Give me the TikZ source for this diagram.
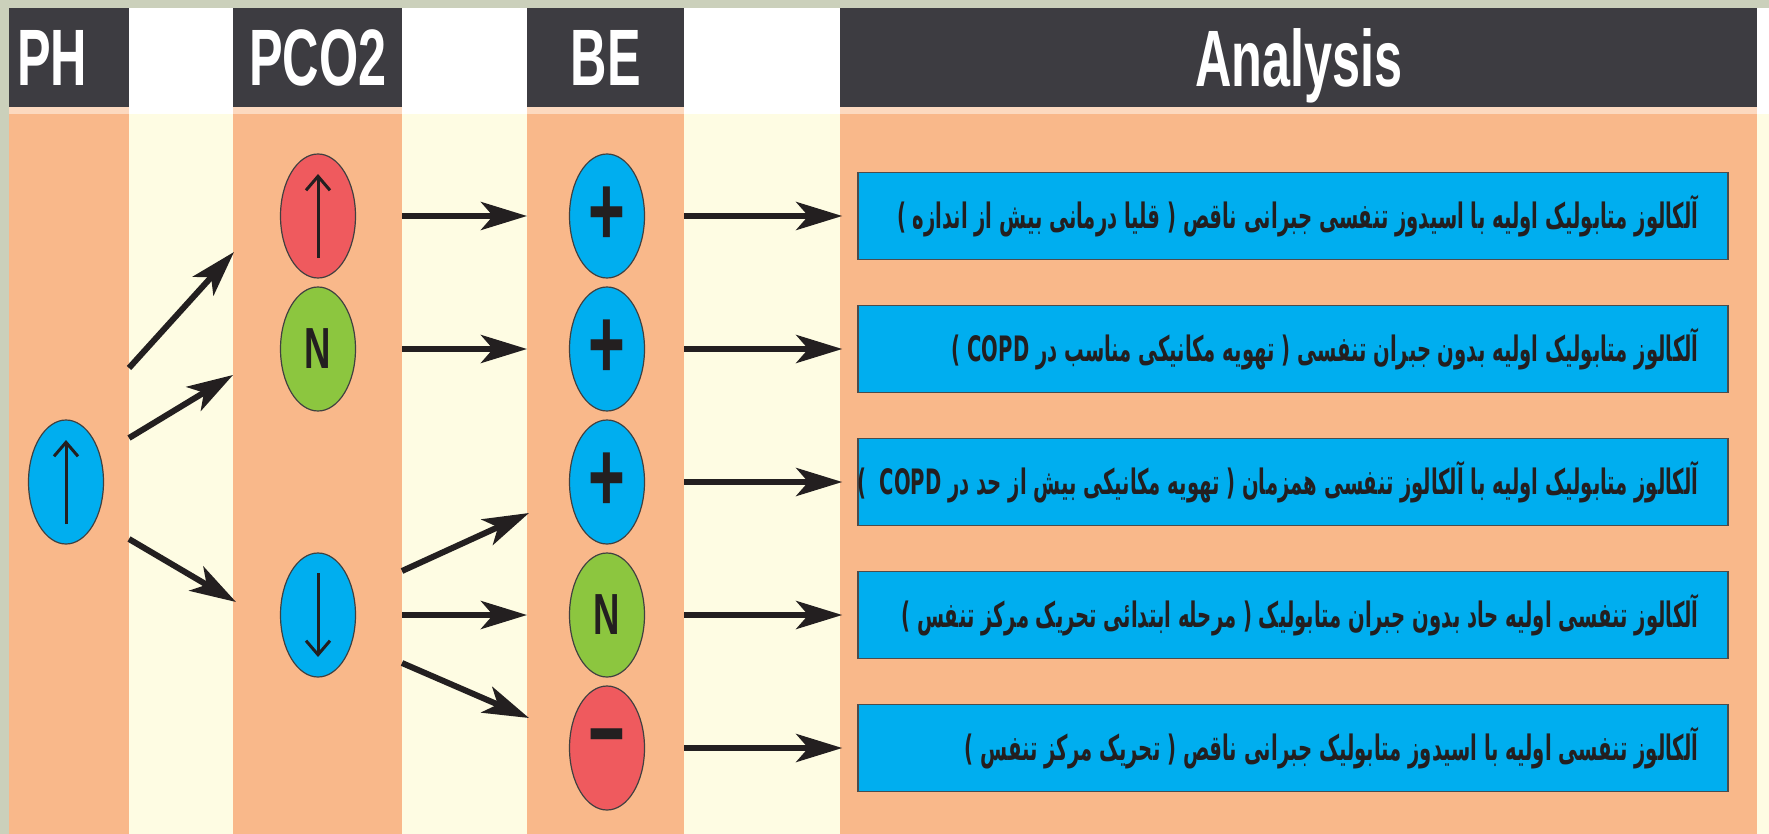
\documentclass[tikz,border=0pt]{standalone}
\usepackage{fontspec}
\usetikzlibrary{arrows.meta,positioning,shapes.geometric}
\TeXXeTstate=1
\newfontfamily\headfont[FakeStretch=0.63]{Liberation Sans Bold}
\newfontfamily\fafont[Script=Arabic,FakeStretch=0.56]{DejaVu Sans Bold}
\definecolor{bordgreen}{HTML}{CBD0BB}
\definecolor{headgray}{HTML}{3D3C41}
\definecolor{peach}{HTML}{F9B88A}
\definecolor{lightpeach}{HTML}{FCD9BF}
\definecolor{cream}{HTML}{FEFCE3}
\definecolor{cyanfill}{HTML}{00AEEF}
\definecolor{redfill}{HTML}{EF5A5E}
\definecolor{greenfill}{HTML}{8CC63F}
\definecolor{inkblack}{HTML}{231F20}

\begin{document}
\begin{tikzpicture}[x=1pt,y=-1pt,node distance=133pt,
            arr/.style={color=inkblack,line width=6pt,-{Stealth[length=46pt,width=28pt,inset=12pt]}},
            sym/.style={draw=inkblack,line width=3pt,-{Straight Barb[length=14pt,width=24pt]}},
            oval/.style={ellipse,draw=black!75,line width=1.2pt,minimum width=75pt,minimum height=124pt,inner sep=0pt,text=inkblack},
            colbar/.style={anchor=north west,fill=peach,inner sep=0pt,outer sep=0pt,minimum height=720pt},
            head/.style={anchor=north west,fill=headgray,text=white,inner sep=0pt,minimum height=99pt,text depth=0pt,font=\headfont\fontsize{80}{80}\selectfont},
            infobox/.style={fill=cyanfill,draw=black!70,line width=1.5pt,minimum width=870pt,minimum height=87pt,inner sep=0pt},
            fatext/.style={inner sep=0pt,text=inkblack,font=\fafont\fontsize{35}{40}\selectfont},
            letter/.style={font=\headfont\fontsize{58}{58}\selectfont},
            sign/.style={font=\headfont\fontsize{100}{100}\selectfont}]
            \useasboundingbox (0,0) rectangle (1769,834);
            \fill[bordgreen] (0,0) rectangle (1769,834);
            \fill[white] (9,8) rectangle (1769,114);
            \fill[cream] (9,114) rectangle (1769,834);

            \node[colbar,minimum width=120pt] (colph)  at (9,114)   {};
            \node[colbar,minimum width=169pt] (colpco) at (233,114) {};
            \node[colbar,minimum width=157pt] (colbe)  at (527,114) {};
            \node[colbar,minimum width=917pt] (colan)  at (840,114) {};

            \fill[lightpeach] (9,107) rectangle (129,114);
            \fill[lightpeach] (233,107) rectangle (402,114);
            \fill[lightpeach] (527,107) rectangle (684,114);
            \fill[lightpeach] (840,107) rectangle (1757,114);

            \node[head,minimum width=120pt,text width=104pt,align=left] (hdph) at (9,8) {PH};
            \node[head,minimum width=169pt] (hdpco) at (233,8)   {PCO2};
            \node[head,minimum width=157pt] (hdbe)  at (527,8)   {BE};
            \node[head,minimum width=917pt] (hdan)  at (840,8)   {Analysis};

            \node[oval,fill=cyanfill,sign]       (be1) at (607,216)  {+};
            \node[oval,fill=cyanfill,sign]       (be2) [below of=be1] {+};
            \node[oval,fill=cyanfill,sign]       (be3) [below of=be2] {+};
            \node[oval,fill=greenfill,letter]    (be4) [below of=be3] {N};
            \node[oval,fill=redfill,sign]        (be5) [below of=be4] {−};

            \node[oval,fill=redfill]             (pcoup) [node distance=289pt,left of=be1] {};
            \node[oval,fill=greenfill,letter]    (pcon)  [node distance=289pt,left of=be2] {N};
            \node[oval,fill=cyanfill]            (pcodn) [node distance=289pt,left of=be4] {};
            \node[oval,fill=cyanfill]            (ph)    [node distance=541pt,left of=be3] {};

            \draw[sym] ([yshift=-42pt]ph.center)    -- ([yshift=42pt]ph.center);
            \draw[sym] ([yshift=-42pt]pcoup.center) -- ([yshift=42pt]pcoup.center);
            \draw[sym] ([yshift=42pt]pcodn.center)  -- ([yshift=-42pt]pcodn.center);

            \node[infobox] (box1) at (1293,216) {};
            \node[infobox] (box2) [below of=box1] {};
            \node[infobox] (box3) [below of=box2] {};
            \node[infobox] (box4) [below of=box3] {};
            \node[infobox] (box5) [below of=box4] {};

            \node[fatext,left=30pt of box1.east] (lab1) {\beginR آلکالوز متابولیک اولیه با اسیدوز تنفسی جبرانی ناقص ( قلیا درمانی بیش از اندازه )\endR};
            \node[fatext,left=30pt of box2.east] (lab2) {\beginR آلکالوز متابولیک اولیه بدون جبران تنفسی ( تهویه مکانیکی مناسب در \beginL COPD\endL{} )\endR};
            \node[fatext,left=30pt of box3.east] (lab3) {\beginR آلکالوز متابولیک اولیه با آلکالوز تنفسی همزمان ( تهویه مکانیکی بیش از حد در \beginL COPD\endL\ \ )\endR};
            \node[fatext,left=30pt of box4.east] (lab4) {\beginR آلکالوز تنفسی اولیه حاد بدون جبران متابولیک ( مرحله ابتدائی تحریک مرکز تنفس )\endR};
            \node[fatext,left=30pt of box5.east] (lab5) {\beginR آلکالوز تنفسی اولیه با اسیدوز متابولیک جبرانی ناقص ( تحریک مرکز تنفس )\endR};

            \coordinate (pha)  at (129,368);
            \coordinate (phb)  at (129,438);
            \coordinate (phc)  at (129,539);
            \coordinate (pcoa) at (234,252);
            \coordinate (pcob) at (233,375);
            \coordinate (pcoc) at (236,602);
            \coordinate (dna)  at (402,571);
            \coordinate (dnb)  at (402,663);
            \coordinate (bea)  at (529,513);
            \coordinate (beb)  at (529,718);

            \path[arr]
                (pha) edge (pcoa)
                (phb) edge (pcob)
                (phc) edge (pcoc)
                (pcoup -| colpco.east) edge (be1 -| colbe.west)
                (pcon -| colpco.east)  edge (be2 -| colbe.west)
                (pcodn -| colpco.east) edge (be4 -| colbe.west)
                (dna) edge (bea)
                (dnb) edge (beb)
                (be1 -| colbe.east) edge ([xshift=-15pt]box1.west)
                (be2 -| colbe.east) edge ([xshift=-15pt]box2.west)
                (be3 -| colbe.east) edge ([xshift=-15pt]box3.west)
                (be4 -| colbe.east) edge ([xshift=-15pt]box4.west)
                (be5 -| colbe.east) edge ([xshift=-15pt]box5.west);
        \end{tikzpicture}
\end{document}
